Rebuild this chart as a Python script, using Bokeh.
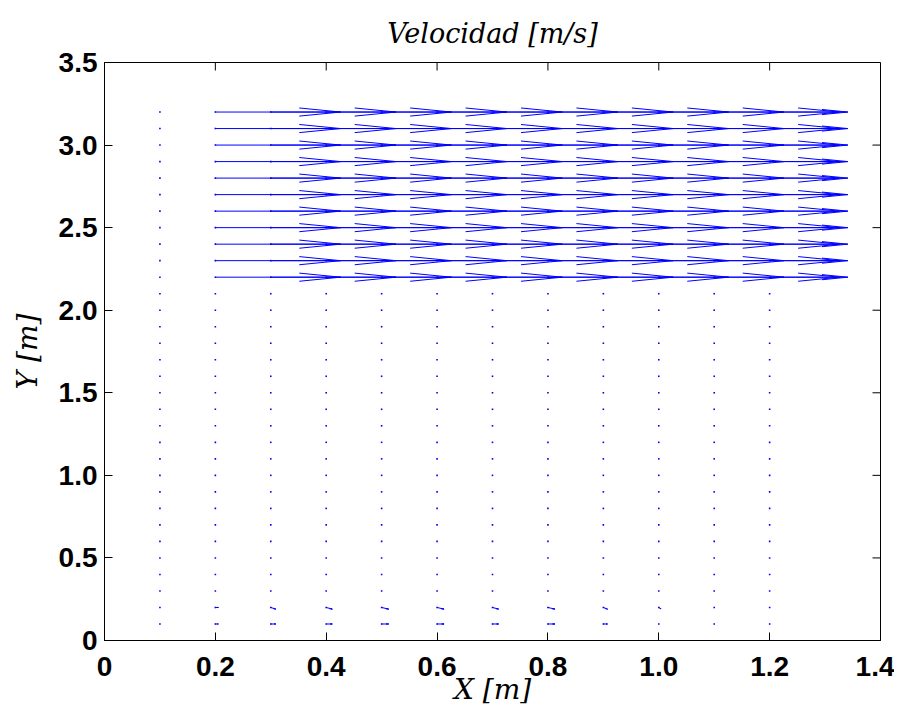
import numpy as np
from bokeh.plotting import figure
from bokeh.models import Range1d, FixedTicker, ColumnDataSource
from bokeh.embed import file_html
from bokeh.resources import INLINE

# ---- data ----
x_grid = [0.1, 0.2, 0.3, 0.4, 0.5, 0.6, 0.7, 0.8, 0.9, 1.0, 1.1, 1.2]
y_grid = [0.1, 0.2, 0.3, 0.4, 0.5, 0.6, 0.7, 0.8, 0.9, 1.0, 1.1, 1.2, 1.3, 1.4, 1.5, 1.6,
          1.7, 1.8, 1.9, 2.0, 2.1, 2.2, 2.3, 2.4, 2.5, 2.6, 2.7, 2.8, 2.9, 3.0, 3.1, 3.2]

# upper stream region (arrow components, plotted length in axis units)
jet_rows = [2.2, 2.3, 2.4, 2.5, 2.6, 2.7, 2.8, 2.9, 3.0, 3.1, 3.2]
jet_cols = [0.2, 0.3, 0.4, 0.5, 0.6, 0.7, 0.8, 0.9, 1.0, 1.1, 1.2]
jet_u = [0.226, 0.226, 0.226, 0.226, 0.226, 0.226, 0.226, 0.226, 0.226, 0.226, 0.141]
jet_v = [0.0, 0.0, 0.0, 0.0, 0.0, 0.0, 0.0, 0.0, 0.0, 0.0, 0.0]

# small vectors near the floor
floor_cols = [0.2, 0.3, 0.4, 0.5, 0.6, 0.7, 0.8, 0.9, 1.0]
floor_u_y02 = [0.0055, 0.009, 0.011, 0.0126, 0.0126, 0.011, 0.0126, 0.0075, 0.004]
floor_v_y02 = [0.0, -0.010, -0.010, -0.010, -0.010, -0.010, -0.010, -0.010, -0.008]
floor_u_y01 = [0.0055, 0.009, 0.011, 0.0126, 0.0126, 0.011, 0.0126, 0.0075, 0.0]
floor_v_y01 = [0.0, 0.0, 0.0, 0.0, 0.0, 0.0, 0.0, 0.0, 0.0]

x_ticks = [0, 0.2, 0.4, 0.6, 0.8, 1.0, 1.2, 1.4]
x_tick_labels = ["0", "0.2", "0.4", "0.6", "0.8", "1.0", "1.2", "1.4"]
y_ticks = [0, 0.5, 1.0, 1.5, 2.0, 2.5, 3.0, 3.5]
y_tick_labels = ["0", "0.5", "1.0", "1.5", "2.0", "2.5", "3.0", "3.5"]
x_lim = [0, 1.4]
y_lim = [0, 3.5]

title_text = "Velocidad [m/s]"
x_label = "X [m]"
y_label = "Y [m]"

# ---- assemble vectors ----
xs, ys, us, vs = [], [], [], []
for yy in jet_rows:
    for xx, uu, vv in zip(jet_cols, jet_u, jet_v):
        xs.append(xx); ys.append(yy); us.append(uu); vs.append(vv)
for xx, uu, vv in zip(floor_cols, floor_u_y02, floor_v_y02):
    xs.append(xx); ys.append(0.2); us.append(uu); vs.append(vv)
for xx, uu, vv in zip(floor_cols, floor_u_y01, floor_v_y01):
    xs.append(xx); ys.append(0.1); us.append(uu); vs.append(vv)

xs = np.array(xs); ys = np.array(ys); us = np.array(us); vs = np.array(vs)
keep = (np.abs(us) + np.abs(vs)) > 0
xs, ys, us, vs = xs[keep], ys[keep], us[keep], vs[keep]

alpha, beta = 0.33, 0.33
tx, ty = xs + us, ys + vs
b1x = tx - alpha * (us + beta * vs)
b1y = ty - alpha * (vs - beta * us)
b2x = tx - alpha * (us - beta * vs)
b2y = ty - alpha * (vs + beta * us)

seg_x0 = np.concatenate([xs, tx, tx])
seg_y0 = np.concatenate([ys, ty, ty])
seg_x1 = np.concatenate([tx, b1x, b2x])
seg_y1 = np.concatenate([ty, b1y, b2y])
seg_src = ColumnDataSource(dict(x0=seg_x0, y0=seg_y0, x1=seg_x1, y1=seg_y1))

gx, gy = np.meshgrid(x_grid, y_grid)
dot_src = ColumnDataSource(dict(x=gx.ravel(), y=gy.ravel()))

# ---- figure ----
p = figure(output_backend="svg", toolbar_location=None,
           frame_width=776, frame_height=578,
           x_range=Range1d(*x_lim), y_range=Range1d(*y_lim),
           min_border_left=104, min_border_right=14, min_border_top=62, min_border_bottom=68,
           background_fill_color="white", border_fill_color="white")

p.title.text = title_text
p.title.align = "center"
p.title.text_font = "DejaVu Serif"
p.title.text_font_style = "italic"
p.title.text_font_size = "27px"
p.title.text_color = "black"
p.title.standoff = 28

p.xgrid.visible = False
p.ygrid.visible = False
p.outline_line_color = "black"
p.outline_line_width = 1

def style_axis(ax, ticks, labels):
    ax.ticker = FixedTicker(ticks=ticks)
    ax.major_label_overrides = {t: l for t, l in zip(ticks, labels)}
    ax.major_tick_in = 8
    ax.major_tick_out = 0
    ax.minor_tick_in = 0
    ax.minor_tick_out = 0
    ax.axis_line_color = "black"
    ax.major_tick_line_color = "black"
    ax.major_label_text_font = "Liberation Sans"
    ax.major_label_text_font_style = "bold"
    ax.major_label_text_font_size = "28px"
    ax.major_label_text_color = "black"
    ax.axis_label_text_font = "DejaVu Serif"
    ax.axis_label_text_font_style = "italic"
    ax.axis_label_text_font_size = "28px"
    ax.axis_label_text_color = "black"

xa = p.xaxis[0]
ya = p.yaxis[0]
style_axis(xa, x_ticks, x_tick_labels)
style_axis(ya, y_ticks, y_tick_labels)
xa.major_label_standoff = 16
ya.major_label_standoff = 7
xa.axis_label = x_label
ya.axis_label = y_label
xa.axis_label_standoff = -6
ya.axis_label_standoff = 12

# mirrored inward ticks on the top and right edges of the box
p.ray(x=x_ticks, y=[y_lim[1]] * len(x_ticks), length=8, length_units="screen",
      angle=-np.pi / 2, line_color="black", line_width=1)
p.ray(x=[x_lim[1]] * len(y_ticks), y=y_ticks, length=8, length_units="screen",
      angle=np.pi, line_color="black", line_width=1)

p.scatter("x", "y", source=dot_src, marker="square", size=1.6,
          fill_color="#0000ff", line_color=None)
p.segment("x0", "y0", "x1", "y1", source=seg_src, line_color="#0000ff", line_width=1)

open("out.html", "w").write(file_html(p, INLINE))
